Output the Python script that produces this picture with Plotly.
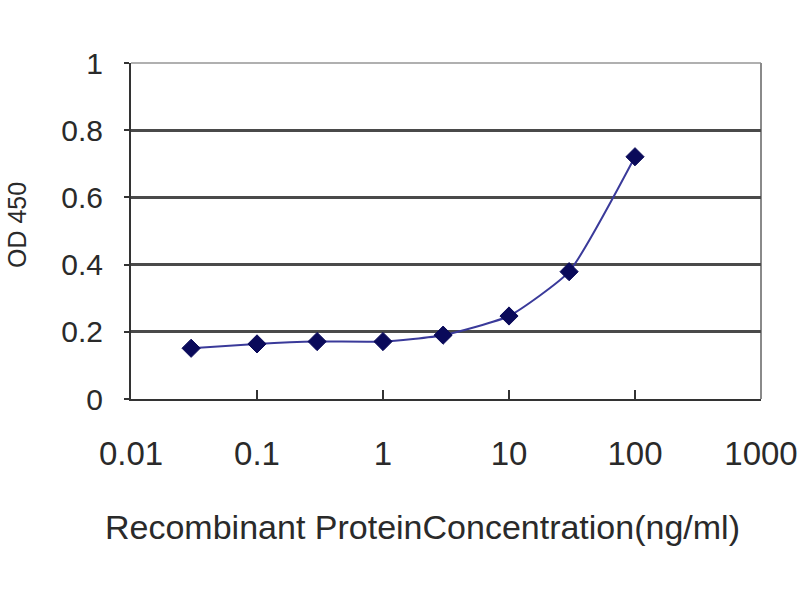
import plotly.graph_objects as go

# Data
concentration = [0.03, 0.1, 0.3, 1, 3, 10, 30, 100]
od450 = [0.151, 0.164, 0.171, 0.171, 0.19, 0.247, 0.379, 0.721]

x_tickvals = [0.01, 0.1, 1, 10, 100, 1000]
x_ticktext = ["0.01", "0.1", "1", "10", "100", "1000"]
y_tickvals = [0, 0.2, 0.4, 0.6, 0.8, 1]
y_ticktext = ["0", "0.2", "0.4", "0.6", "0.8", "1"]

x_title = "Recombinant ProteinConcentration(ng/ml)"
y_title = "OD 450"

FONT = "Liberation Sans, Arial, sans-serif"
TXT = "#2a2a2a"

# plot area in page px: x 130..761, y 63..399
fig = go.Figure()
fig.add_trace(go.Scatter(
    x=concentration, y=od450, mode="lines+markers",
    line=dict(color="#3a3a9a", width=2, shape="spline", smoothing=0.5),
    marker=dict(symbol="diamond", size=14, color="#0a0a5a",
                line=dict(color="#0a0a5a", width=1)),
    showlegend=False,
))

fig.update_layout(
    width=800, height=600,
    paper_bgcolor="white", plot_bgcolor="white",
    margin=dict(l=131, r=39, t=63, b=201, autoexpand=False),
    font=dict(family=FONT, color=TXT),
    xaxis=dict(
        type="log", range=[-2, 3], automargin=False,
        tickvals=x_tickvals, ticktext=x_ticktext,
        tickfont=dict(size=33, family=FONT, color=TXT),
        showgrid=False, zeroline=False,
        showline=True, linecolor="#333333", linewidth=2,
        ticks="inside", ticklen=9, tickwidth=2, tickcolor="#333333",
        ticklabelstandoff=24,
    ),
    yaxis=dict(
        range=[0, 1], automargin=False,
        tickvals=y_tickvals, ticktext=y_ticktext,
        tickfont=dict(size=30, family=FONT, color=TXT),
        showgrid=True, gridcolor="#4a4a4a", gridwidth=3,
        zeroline=False,
        showline=True, linecolor="#333333", linewidth=2,
        ticks="outside", ticklen=5, tickwidth=2, tickcolor="#333333",
        ticklabelstandoff=15,
    ),
    annotations=[
        dict(text=x_title, xref="paper", yref="paper",
             x=(422 - 131) / 630, y=(399 - 527) / 336,
             xanchor="center", yanchor="middle", showarrow=False,
             font=dict(size=34, family=FONT, color=TXT)),
        dict(text=y_title, xref="paper", yref="paper",
             x=(17 - 131) / 630, y=(399 - 225) / 336, textangle=-90,
             xanchor="center", yanchor="middle", showarrow=False,
             font=dict(size=25, family=FONT, color=TXT)),
    ],
    shapes=[
        dict(type="line", xref="paper", yref="paper", x0=0, x1=1, y0=1, y1=1,
             line=dict(color="#b0b0b0", width=2), layer="below"),
        dict(type="line", xref="paper", yref="paper", x0=1, x1=1, y0=0, y1=1,
             line=dict(color="#8a8a8a", width=2), layer="below"),
    ],
)

fig.write_html(
    "out.html",
    config={"displayModeBar": False},
    post_script="document.body.style.margin='0';document.body.style.overflow='hidden';",
)
